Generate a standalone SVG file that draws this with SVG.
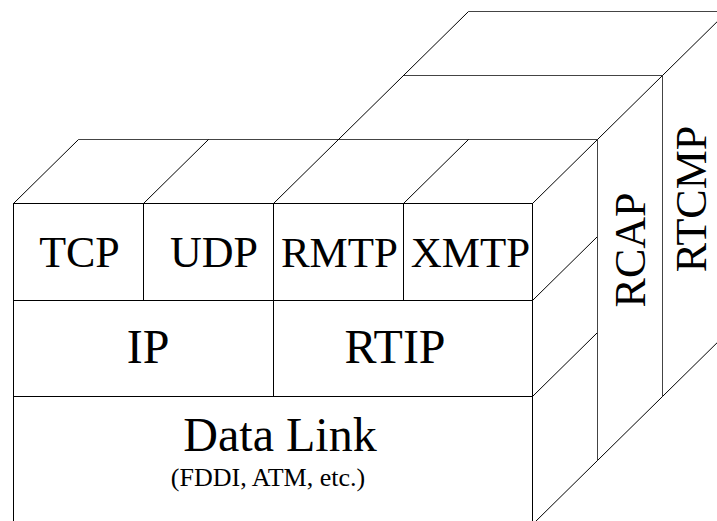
<svg xmlns="http://www.w3.org/2000/svg" width="717" height="521" viewBox="0 0 717 521">
<style>
.b{fill:none;stroke:#000;stroke-width:1}
.g{fill:none;stroke:#444;stroke-width:1}
.t{fill:#000;text-anchor:middle}
</style>
<rect width="717" height="521" fill="#fff"/>
<g id="perspective">
<line class="g" x1="78.5" y1="139.5" x2="597.5" y2="139.5"/>
<line class="g" x1="403.5" y1="75.5" x2="662.5" y2="75.5"/>
<line class="g" x1="468.5" y1="11.5" x2="717" y2="11.5"/>
<line class="b" x1="13.5" y1="203.5" x2="78.5" y2="139.5"/>
<line class="b" x1="143.5" y1="203.5" x2="208.5" y2="139.5"/>
<line class="b" x1="273.5" y1="203.5" x2="468.5" y2="11.5"/>
<line class="b" x1="403.5" y1="203.5" x2="468.5" y2="139.5"/>
<line class="b" x1="532.5" y1="203.5" x2="727.5" y2="11.5"/>
<line class="b" x1="532.5" y1="300.5" x2="597.5" y2="236.5"/>
<line class="b" x1="532.5" y1="396.5" x2="597.5" y2="332.5"/>
<line class="b" x1="532.5" y1="524.5" x2="727.5" y2="332.5"/>
<line class="g" x1="597.5" y1="139.5" x2="597.5" y2="460.5"/>
<line class="g" x1="662.5" y1="75.5" x2="662.5" y2="396.5"/>
</g>
<g id="connectors"></g>
<g font-family="'Liberation Serif', 'Times New Roman', Times, serif">
<g id="tcp"><rect class="b" x="13.5" y="203.5" width="130" height="97"/><text class="t" x="79.5" y="267" font-size="44">TCP</text></g>
<g id="udp"><rect class="b" x="143.5" y="203.5" width="130" height="97"/><text class="t" x="214" y="267" font-size="44">UDP</text></g>
<g id="rmtp"><rect class="b" x="273.5" y="203.5" width="130" height="97"/><text class="t" x="339.5" y="267" font-size="43">RMTP</text></g>
<g id="xmtp"><rect class="b" x="403.5" y="203.5" width="129" height="97"/><text class="t" x="470.5" y="267" font-size="43">XMTP</text></g>
<g id="ip"><rect class="b" x="13.5" y="300.5" width="260" height="96"/><text class="t" x="148" y="363" font-size="48">IP</text></g>
<g id="rtip"><rect class="b" x="273.5" y="300.5" width="259" height="96"/><text class="t" x="395" y="363" font-size="48">RTIP</text></g>
<g id="datalink"><rect class="b" x="13.5" y="396.5" width="519" height="130"/><text class="t" x="280" y="451" font-size="48">Data Link</text><text class="t" x="268" y="486" font-size="26">(FDDI, ATM, etc.)</text></g>
<g id="rcap"><text class="t" transform="translate(645,250) rotate(-90)" font-size="44">RCAP</text></g>
<g id="rtcmp"><text class="t" transform="translate(706,199) rotate(-90)" font-size="44">RTCMP</text></g>
</g>
</svg>
